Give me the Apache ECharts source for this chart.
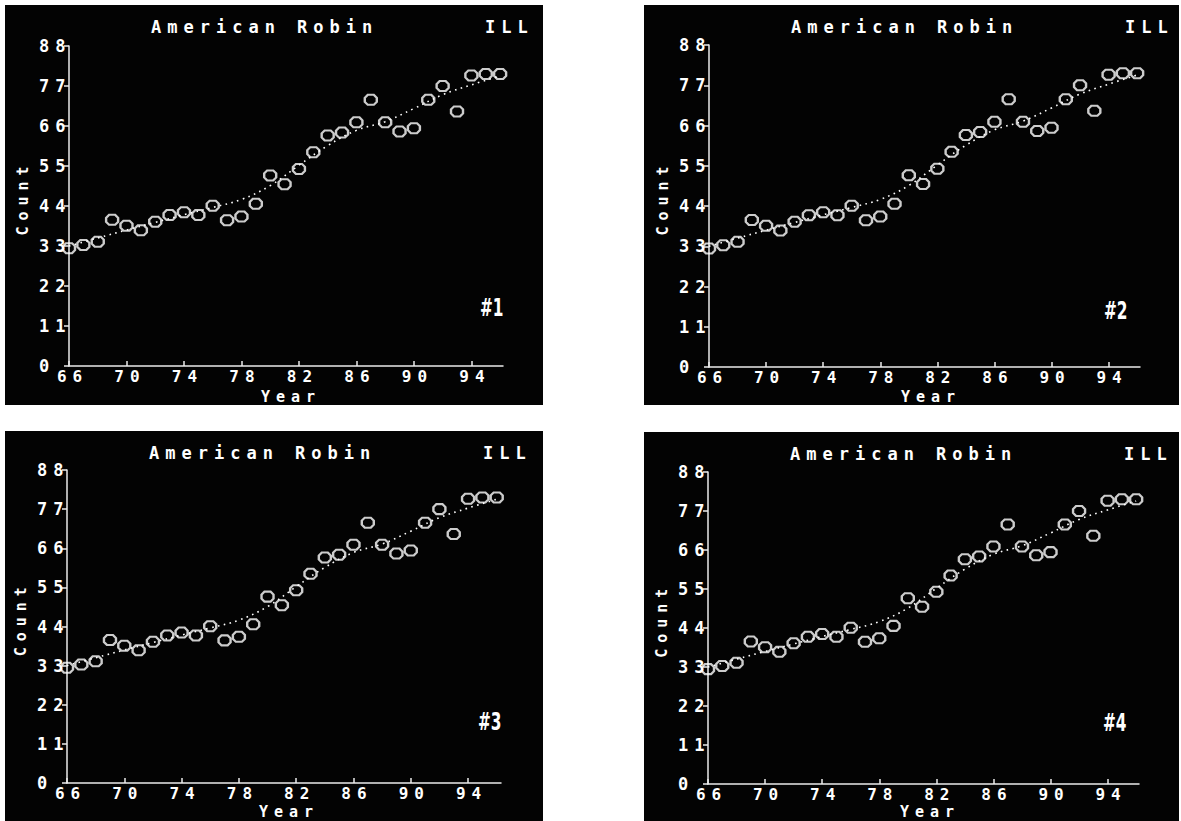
<!DOCTYPE html>
<html>
<head>
<meta charset="utf-8">
<title>American Robin - ILL</title>
<script src="https://cdn.jsdelivr.net/npm/echarts@6/dist/echarts.min.js"></script>
<style>
    html, body { margin: 0; padding: 0; background: #fff; }
    body { width: 1181px; height: 821px; position: relative; overflow: hidden; }
    .panel { position: absolute; background: #030303; }
    /* the old screen font is widely spaced */
    .panel svg text { letter-spacing: 6px; }
    .panel svg text[style*="24px"], .panel svg text[font-size*="24"] { letter-spacing: 0; }
</style>
</head>
<body>
<div id="p1" class="panel"></div>
<div id="p2" class="panel"></div>
<div id="p3" class="panel"></div>
<div id="p4" class="panel"></div>

<script>
// yearly counts
const years = [66, 67, 68, 69, 70, 71, 72, 73, 74, 75, 76, 77, 78, 79, 80, 81,
    82, 83, 84, 85, 86, 87, 88, 89, 90, 91, 92, 93, 94, 95, 96]
const counts = [32.4, 33.3, 34.2, 40.2, 38.6, 37.3, 39.7, 41.5, 42.3, 41.5, 44.1, 40.1, 41.1, 44.6, 52.4, 50.0,
    54.2, 58.8, 63.4, 64.2, 67.0, 73.2, 67.0, 64.5, 65.4, 73.2, 77.0, 70.0, 79.9, 80.3, 80.3]

// dotted smoothed trend
const trendYears = [66, 68, 70, 72, 74, 76, 78, 80, 82, 84, 86, 88, 90, 92, 94, 96]
const trendCounts = [33.0, 35.2, 37.4, 39.5, 41.6, 43.6, 45.8, 49.6, 55.2, 60.6, 64.8, 67.2, 70.8, 74.6, 77.3, 79.8]

const yearTicks = [66, 70, 74, 78, 82, 86, 90, 94]
const countTicks = [0, 11, 22, 33, 44, 55, 66, 77, 88]

const titleText = 'American Robin'
const stateText = 'ILL'

// where each scanned copy sits on the page
const panels = [
    {id: 'p1', tag: '#1', box: [5, 5, 538, 400], grid: [64, 41, 434, 320], max: 96.2, tagPos: [475, 303], yearGap: 31},
    {id: 'p2', tag: '#2', box: [644, 5, 535, 400], grid: [65, 40, 431, 322], max: 96.2, tagPos: [460, 306], yearGap: 29.5},
    {id: 'p3', tag: '#3', box: [5, 431, 538, 390], grid: [62, 39, 434, 313], max: 96.3, tagPos: [473, 291], yearGap: 28.5},
    {id: 'p4', tag: '#4', box: [644, 432, 535, 389], grid: [64, 40, 431, 312], max: 96.2, tagPos: [459, 291], yearGap: 27.5},
]

const screenFont = '"DejaVu Sans Mono", "Liberation Mono", monospace'
const lineColor = '#ececec'
// the plotted "o" looks like a small octagon
const oMark = 'path://M3,0 L9,0 L12,3 L12,7 L9,10 L3,10 L0,7 L0,3 Z'

function buildOption (p) {
    let gl = p.grid[0], gt = p.grid[1], gw = p.grid[2], gh = p.grid[3]
    let textStyle = {fill: '#fff', font: 'bold 17px ' + screenFont, verticalAlign: 'middle'}
    let nameStyle = {fill: '#fff', font: 'bold 15px ' + screenFont, verticalAlign: 'middle', lineHeight: 12}
    return {
        animation: false,
        backgroundColor: '#030303',
        grid: {left: gl, top: gt, width: gw, height: gh},
        xAxis: {
            type: 'value',
            min: years[0],
            max: p.max,
            splitLine: {show: false},
            axisLine: {lineStyle: {color: lineColor, width: 1.5}},
            axisTick: {inside: true, length: 5, customValues: yearTicks, lineStyle: {color: lineColor, width: 1.5}},
            axisLabel: {
                customValues: yearTicks,
                margin: 3.5,
                lineHeight: 13,
                padding: [0, 0, 0, 7],
                color: '#fff',
                fontFamily: screenFont,
                fontWeight: 'bold',
                fontSize: 16
            }
        },
        yAxis: {
            type: 'value',
            min: countTicks[0],
            max: countTicks[countTicks.length - 1],
            splitLine: {show: false},
            axisLine: {show: true, lineStyle: {color: lineColor, width: 1.5}},
            axisTick: {show: true, length: 5, customValues: countTicks, lineStyle: {color: lineColor, width: 1.5}},
            axisLabel: {
                customValues: countTicks,
                align: 'left',
                margin: 30,
                color: '#fff',
                fontFamily: screenFont,
                fontWeight: 'bold',
                fontSize: 17
            }
        },
        graphic: [
            {type: 'text', x: gl + 82, y: 21.5, style: Object.assign({text: titleText, align: 'left'}, textStyle)},
            {type: 'text', x: gl + 416, y: 21.5, style: Object.assign({text: stateText, align: 'left'}, textStyle)},
            {type: 'text', x: gl + 222, y: gt + gh + p.yearGap, style: Object.assign({text: 'Year', align: 'center'}, nameStyle)},
            {type: 'text', x: gl - 46, y: gt + gh * 0.475, rotation: Math.PI / 2,
                style: Object.assign({text: 'Count', align: 'center'}, nameStyle)},
            {type: 'text', x: p.tagPos[0], y: p.tagPos[1], scaleX: 0.64, style: {
                text: p.tag, fill: '#fff', align: 'left', verticalAlign: 'middle',
                font: 'bold 24px "DejaVu Sans", sans-serif'
            }}
        ],
        series: [
            {
                type: 'line',
                data: trendYears.map(function (y, i) { return [y, trendCounts[i]] }),
                smooth: 0.4,
                symbol: 'none',
                silent: true,
                lineStyle: {color: '#fff', width: 1.6, type: [1.6, 4.4]}
            },
            {
                type: 'scatter',
                data: years.map(function (y, i) { return [y, counts[i]] }),
                symbol: oMark,
                symbolSize: [12, 10],
                silent: true,
                itemStyle: {color: 'rgba(0,0,0,0)', borderColor: '#fff', borderWidth: 2.2}
            }
        ]
    }
}

panels.forEach(function (p) {
    let el = document.getElementById(p.id)
    el.style.left = p.box[0] + 'px'
    el.style.top = p.box[1] + 'px'
    el.style.width = p.box[2] + 'px'
    el.style.height = p.box[3] + 'px'
    let chart = echarts.init(el, null, {renderer: 'svg'})
    chart.setOption(buildOption(p))
})
</script>
</body>
</html>
